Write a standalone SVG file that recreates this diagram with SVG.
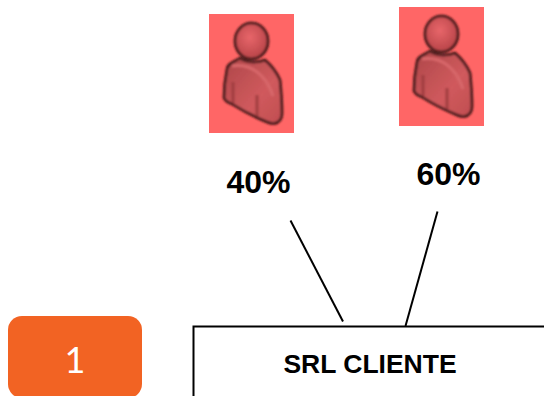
<svg xmlns="http://www.w3.org/2000/svg" width="544" height="396" viewBox="0 0 544 396">
<style>
.lbl{font-family:"Liberation Sans",Arial,sans-serif;font-weight:700;fill:#000}
.conn{stroke:#000;stroke-width:2;fill:none}
.ol{stroke:#3a1618;stroke-width:2.6;stroke-linejoin:round}
.shade{fill:none;stroke:#a03c40;stroke-width:3}
</style>
<defs>
<radialGradient id="hg" cx="0.45" cy="0.4" r="0.6"><stop offset="0" stop-color="#e8666a"/><stop offset="1" stop-color="#b84448"/></radialGradient>
<linearGradient id="bg" x1="0" y1="0" x2="1" y2="1"><stop offset="0" stop-color="#ad4649"/><stop offset="0.6" stop-color="#d05a5d"/><stop offset="1" stop-color="#c04d50"/></linearGradient>
<filter id="soft" x="-10%" y="-10%" width="120%" height="120%"><feGaussianBlur stdDeviation="0.9"/></filter>
<g id="person">
<rect x="209" y="14" width="85" height="119" fill="#ff6666"/>
<g filter="url(#soft)">
<path d="M240 58C234 62 228 63 227 69C225 79 224 89 224 98C226 102 229 103 232 104C243 111 255 117 267 122C271 124 276 124 278 122C281 120 282 116 282 113C282 102 281 90 280 80C276 71 272 66 265 60C258 63 247 63 240 58Z" fill="url(#bg)" class="ol"/>
<path d="M232 66C250 63 266 74 273 96" fill="none" stroke="#d8686b" stroke-width="3"/>
<path d="M233 82V103M257 95V116" class="shade"/>
<ellipse cx="251.500" cy="41" rx="16.500" ry="18" fill="url(#hg)" class="ol"/>
</g>
</g>
</defs>
<g id="person-40"><use href="#person"/></g>
<g id="person-60"><use href="#person" transform="translate(190,-7)"/></g>
<g id="label-40"><text class="lbl" x="226.500" y="193" font-size="32">40%</text></g>
<g id="label-60"><text class="lbl" x="416.500" y="185" font-size="32">60%</text></g>
<g id="connectors">
<path class="conn" d="M290.500 220.500L343 321.500"/>
<path class="conn" d="M437.500 211.500L405.500 326"/>
</g>
<g id="srl-cliente">
<rect x="193.500" y="326.500" width="360" height="90" fill="#fff" stroke="#000" stroke-width="2"/>
<text class="lbl" x="370" y="373" font-size="26.500" text-anchor="middle">SRL CLIENTE</text>
</g>
<g id="badge-1">
<rect x="8" y="316" width="134" height="82" rx="14" fill="#f26323"/>
<text x="75" y="373" font-size="36" text-anchor="middle" fill="#fff" font-family="Lato,sans-serif">1</text>
</g>
</svg>
